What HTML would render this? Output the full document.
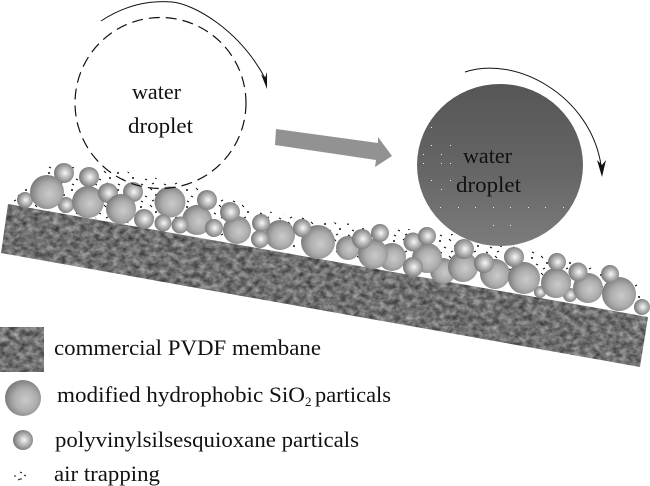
<!DOCTYPE html>
<html>
<head>
<meta charset="utf-8">
<style>
html,body{margin:0;padding:0;background:#fff;}
svg{display:block;}
text{font-family:"Liberation Serif",serif;fill:#111;font-size:22px;}
</style>
</head>
<body>
<svg width="650" height="486" viewBox="0 0 650 486" xmlns="http://www.w3.org/2000/svg">
<defs>
<filter id="tex" x="0" y="0" width="100%" height="100%" color-interpolation-filters="sRGB">
<feTurbulence type="fractalNoise" baseFrequency="0.15 0.19" numOctaves="3" seed="7"/>
<feColorMatrix type="matrix" values="0.6 0 0 0 0.14  0.6 0 0 0 0.14  0.6 0 0 0 0.14  0 0 0 0 1"/>
</filter>
<clipPath id="mem"><polygon points="8,204 648,317 640,367 1,253"/></clipPath>
<clipPath id="leg"><rect x="0" y="327" width="44" height="45"/></clipPath>
<radialGradient id="big" cx="57%" cy="55%" r="58%">
<stop offset="0" stop-color="#cacaca"/>
<stop offset=".55" stop-color="#adadad"/>
<stop offset="1" stop-color="#7a7a7a"/>
</radialGradient>
<radialGradient id="sm" cx="55%" cy="50%" r="55%">
<stop offset="0" stop-color="#f8f8f8"/>
<stop offset=".3" stop-color="#cfcfcf"/>
<stop offset="1" stop-color="#747474"/>
</radialGradient>
<linearGradient id="drop" x1="0" y1="0" x2="0" y2="1">
<stop offset="0" stop-color="#565656"/>
<stop offset=".55" stop-color="#666"/>
<stop offset="1" stop-color="#7c7c7c"/>
</linearGradient>
<pattern id="air" width="23" height="17" patternUnits="userSpaceOnUse">
<path d="M2 3h2M3 2v2M12 1l2 2M7 9l2 1M17 8h2M18 7v2M3 14l2 1M14 14l2-1" stroke="#111" stroke-width="1" fill="none"/>
</pattern>
</defs>

<!-- air band -->
<polygon points="50,165 130,172 200,188 260,210 330,222 420,230 500,240 640,282 640,300 8,205" fill="url(#air)"/>

<!-- membrane -->
<g clip-path="url(#mem)"><rect x="0" y="200" width="650" height="170" filter="url(#tex)"/></g>

<!-- spheres back -->
<g fill="url(#sm)">
<circle cx="25" cy="200" r="8"/><circle cx="66" cy="205" r="8"/><circle cx="540" cy="292" r="6"/><circle cx="570" cy="295" r="7"/>
</g>
<g fill="url(#sm)">
<circle cx="64" cy="173" r="10"/><circle cx="89" cy="177" r="10"/>
</g>
<g fill="url(#big)">
<circle cx="47" cy="192" r="17"/><circle cx="88" cy="202" r="16"/><circle cx="197" cy="220" r="15"/>
<circle cx="392" cy="257" r="14"/><circle cx="443" cy="271" r="13"/><circle cx="427" cy="258" r="15"/>
</g>
<g fill="url(#sm)">
<circle cx="108" cy="193" r="10"/><circle cx="133" cy="192" r="10"/>
</g>
<g fill="url(#big)">
<circle cx="121" cy="209" r="15"/><circle cx="170" cy="202" r="15.5"/><circle cx="237" cy="230" r="14"/>
<circle cx="280" cy="235" r="15"/><circle cx="318" cy="242" r="17"/><circle cx="348" cy="248" r="12"/>
<circle cx="373" cy="254" r="15"/><circle cx="463" cy="267" r="15"/><circle cx="495" cy="274" r="15"/>
<circle cx="524" cy="278" r="16"/><circle cx="556" cy="283" r="15"/><circle cx="588" cy="288" r="15"/>
<circle cx="619" cy="294" r="17"/>
</g>
<g fill="url(#sm)">
<circle cx="144" cy="219" r="10"/><circle cx="163" cy="223" r="8.5"/><circle cx="180" cy="225" r="8.5"/>
<circle cx="207" cy="200" r="10"/><circle cx="214" cy="228" r="9"/><circle cx="230" cy="212" r="10"/>
<circle cx="261" cy="223" r="9"/><circle cx="260" cy="239" r="9"/><circle cx="302" cy="228" r="9"/>
<circle cx="362" cy="239" r="10"/><circle cx="380" cy="233" r="9"/><circle cx="413" cy="242" r="9.5"/>
<circle cx="427" cy="236" r="9"/><circle cx="413" cy="267" r="10"/><circle cx="464" cy="249" r="10"/>
<circle cx="484" cy="263" r="10"/><circle cx="514" cy="257" r="10"/><circle cx="557" cy="262" r="9"/>
<circle cx="578" cy="272" r="9.5"/><circle cx="610" cy="274" r="9"/><circle cx="642" cy="307" r="8"/>
</g>

<!-- left droplet -->
<circle cx="160.5" cy="103" r="85.5" fill="none" stroke="#111" stroke-width="1.2" stroke-dasharray="11 6"/>
<path d="M101,21 C125,5 150,0 172,2 S240,30 266,80" fill="none" stroke="#111" stroke-width="1"/>
<polygon points="267,89 261,74 265,78 267,72" fill="#111"/>
<text x="132" y="99" textLength="49" lengthAdjust="spacingAndGlyphs">water</text>
<text x="128" y="133" textLength="65" lengthAdjust="spacingAndGlyphs">droplet</text>

<!-- big arrow -->
<polygon points="276,129 378,143 378,137 392,156 375,167 376,160 275,145" fill="#929292"/>

<!-- right droplet -->
<ellipse cx="500" cy="165" rx="83" ry="81" fill="url(#drop)"/>
<g fill="#eee">
<rect x="431" y="127" width="1" height="1"/><rect x="431" y="145" width="1" height="1"/><rect x="450" y="145" width="1" height="1"/>
<rect x="423" y="154" width="1" height="1"/><rect x="441" y="154" width="1" height="1"/><rect x="423" y="163" width="1" height="1"/>
<rect x="441" y="163" width="1" height="1"/><rect x="450" y="163" width="1" height="1"/><rect x="431" y="180" width="1" height="1"/>
<rect x="450" y="180" width="1" height="1"/><rect x="441" y="189" width="1" height="1"/>
<rect x="440" y="207" width="1" height="1"/><rect x="458" y="207" width="1" height="1"/><rect x="475" y="207" width="1" height="1"/>
<rect x="493" y="207" width="1" height="1"/><rect x="510" y="207" width="1" height="1"/><rect x="528" y="207" width="1" height="1"/>
<rect x="545" y="207" width="1" height="1"/><rect x="563" y="207" width="1" height="1"/>
<rect x="493" y="225" width="1" height="1"/><rect x="510" y="225" width="1" height="1"/>
</g>
<path d="M465,72 C515,55 590,95 601,165" fill="none" stroke="#111" stroke-width="1"/>
<polygon points="602,177 597,160 602,165 606,160" fill="#111"/>
<text x="463" y="163" textLength="49" lengthAdjust="spacingAndGlyphs">water</text>
<text x="456" y="192" textLength="65" lengthAdjust="spacingAndGlyphs">droplet</text>

<!-- legend -->
<g clip-path="url(#leg)"><rect x="0" y="327" width="44" height="45" filter="url(#tex)"/></g>
<circle cx="23" cy="398" r="18" fill="url(#big)"/>
<circle cx="23" cy="440" r="10" fill="url(#sm)"/>
<path d="M14,476h2M20,472l2,1M24,475l2,1M18,480l2,-1M21,478v2" stroke="#222" stroke-width="1" fill="none"/>
<text x="54" y="355" textLength="267" lengthAdjust="spacingAndGlyphs">commercial PVDF membane</text>
<text x="57" y="402" textLength="248" lengthAdjust="spacingAndGlyphs">modified hydrophobic SiO</text>
<text x="305" y="406" style="font-size:13px">2</text>
<text x="315" y="402" textLength="76" lengthAdjust="spacingAndGlyphs">particals</text>
<text x="55" y="447" textLength="304" lengthAdjust="spacingAndGlyphs">polyvinylsilsesquioxane particals</text>
<text x="54" y="481" textLength="106" lengthAdjust="spacingAndGlyphs">air trapping</text>
</svg>
</body>
</html>
